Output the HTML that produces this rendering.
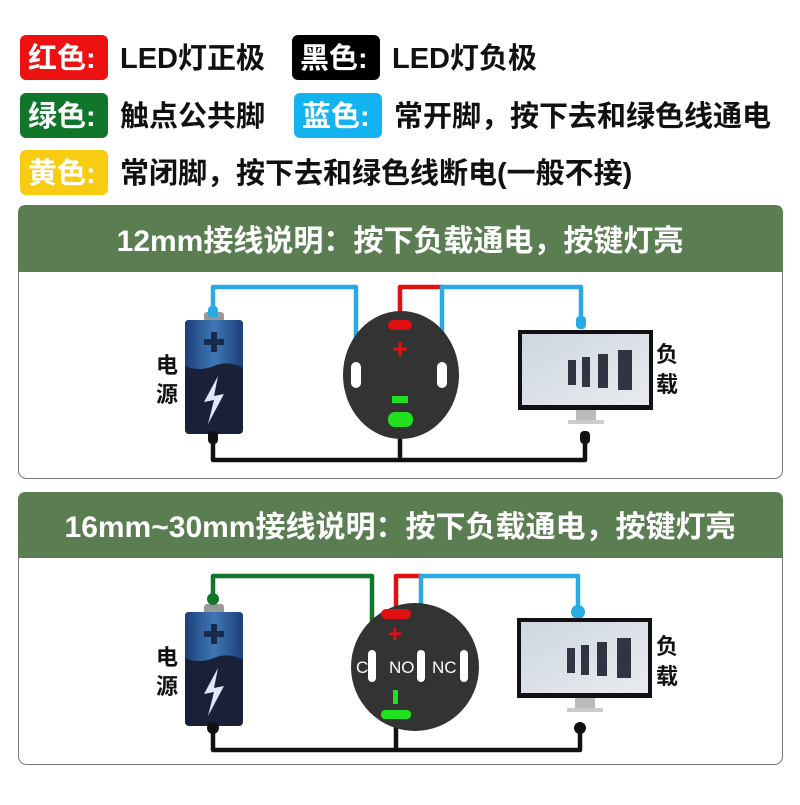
<!DOCTYPE html>
<html><head><meta charset="utf-8"><style>
body{margin:0;width:800px;height:800px;background:#fff;overflow:hidden;font-family:"Liberation Sans","Noto Sans CJK SC",sans-serif}
</style></head><body>
<svg width="800" height="800" xmlns="http://www.w3.org/2000/svg" font-family="Liberation Sans, Noto Sans CJK SC, sans-serif">
<defs>
<linearGradient id="bt" x1="0" y1="0" x2="1" y2="0"><stop offset="0" stop-color="#1c3f78"/><stop offset="0.5" stop-color="#3f78b8"/><stop offset="1" stop-color="#1c3f78"/></linearGradient>
<linearGradient id="scr" x1="0" y1="0" x2="1" y2="1"><stop offset="0" stop-color="#cfd6df"/><stop offset="1" stop-color="#e8ecf0"/></linearGradient>
<g id="bat">
<rect x="-10" y="-8" width="20" height="10" rx="3" fill="#999"/>
<rect x="-29" y="0" width="58" height="114" rx="4" fill="#1a2038"/>
<path d="M-29 4 Q-29 0 -25 0 L25 0 Q29 0 29 4 L29 48 Q15 40 0 46 Q-15 52 -29 46 Z" fill="url(#bt)"/>
<rect x="-3" y="12" width="6" height="20" fill="#1a2a4a"/><rect x="-10" y="19" width="20" height="6" fill="#1a2a4a"/>
<path d="M4 56 L-10 82 L0 80 L-6 104 L10 74 L0 76 Z" fill="#dfe8f8"/>
</g>
<g id="mon">
<rect x="0" y="0" width="135" height="80" fill="#111"/>
<rect x="4" y="4" width="127" height="71" fill="url(#scr)"/>
<rect x="50" y="30" width="8" height="25" fill="#334"/><rect x="64" y="27" width="8" height="30" fill="#334"/><rect x="80" y="24" width="10" height="34" fill="#334"/><rect x="100" y="20" width="14" height="40" fill="#334"/>
<rect x="58" y="80" width="20" height="10" fill="#bbb"/><rect x="50" y="90" width="36" height="4" fill="#ccc"/>
</g>
</defs>
<!-- legend -->
<g font-size="29" font-weight="bold">
<rect x="20" y="35" width="88" height="45" rx="6" fill="#ee1111"/><text x="28" y="68" fill="#fff">红色:</text>
<text x="120" y="68" fill="#111">LED灯正极</text>
<rect x="292" y="35" width="88" height="45" rx="6" fill="#000"/><text x="300" y="68" fill="#fff">黑色:</text>
<text x="392" y="68" fill="#111">LED灯负极</text>
<rect x="20" y="93" width="88" height="45" rx="6" fill="#10772a"/><text x="28" y="126" fill="#fff">绿色:</text>
<text x="120" y="126" fill="#111">触点公共脚</text>
<rect x="294" y="93" width="88" height="45" rx="6" fill="#13b2f0"/><text x="302" y="126" fill="#fff">蓝色:</text>
<text x="394" y="126" fill="#111">常开脚，按下去和绿色线通电</text>
<rect x="20" y="150" width="88" height="45" rx="6" fill="#f8cc10"/><text x="28" y="183" fill="#fff">黄色:</text>
<text x="120" y="183" fill="#111">常闭脚，按下去和绿色线断电(一般不接)</text>
</g>
<!-- panel 1 -->
<rect x="18.5" y="205.5" width="764" height="273" rx="8" fill="#fff" stroke="#777"/>
<path d="M18 213 Q18 205 26 205 L775 205 Q783 205 783 213 L783 272 L18 272 Z" fill="#5a7d52"/>
<text x="400" y="251" font-size="30" font-weight="bold" fill="#fff" text-anchor="middle">12mm接线说明：按下负载通电，按键灯亮</text>
<use href="#bat" x="214" y="320"/>
<g fill="none" stroke-width="4.5" stroke-linejoin="round">
<path d="M213 310 V287 H356 V375" stroke="#29aae3"/>
<path d="M400 322 V287 H442" stroke="#e01010"/>
<path d="M442 375 V287 H581 V318" stroke="#29aae3"/>
<path d="M213 440 V460 H585 V440 M400 430 V460" stroke="#111"/>
</g>
<rect x="208" y="306" width="10" height="12" rx="4" fill="#29aae3"/>
<rect x="576" y="316" width="10" height="13" rx="4" fill="#29aae3"/>
<ellipse cx="401" cy="375" rx="58" ry="64" fill="#333"/>
<rect x="388" y="320" width="24" height="10" rx="5" fill="#e01010"/>
<text x="400" y="358" font-size="28" font-weight="bold" fill="#e01010" text-anchor="middle">+</text>
<rect x="392" y="396" width="16" height="7" fill="#20e020"/>
<rect x="388" y="412" width="25" height="15" rx="7" fill="#20e020"/>
<rect x="351" y="362" width="10" height="26" rx="5" fill="#fff"/>
<rect x="437" y="362" width="10" height="26" rx="5" fill="#fff"/>
<rect x="208" y="431" width="10" height="13" rx="4" fill="#111"/>
<rect x="580" y="431" width="10" height="13" rx="4" fill="#111"/>
<use href="#mon" x="518" y="330"/>
<g font-size="22" font-weight="bold" fill="#111"><text x="156" y="373">电</text><text x="156" y="402">源</text><text x="656" y="362">负</text><text x="656" y="392">载</text></g>
<!-- panel 2 -->
<rect x="18.5" y="492.5" width="764" height="272" rx="8" fill="#fff" stroke="#777"/>
<path d="M18 500 Q18 492 26 492 L775 492 Q783 492 783 500 L783 558 L18 558 Z" fill="#5a7d52"/>
<text x="400" y="537" font-size="30" font-weight="bold" fill="#fff" text-anchor="middle">16mm~30mm接线说明：按下负载通电，按键灯亮</text>
<use href="#bat" x="214" y="612"/>
<g fill="none" stroke-width="4.5" stroke-linejoin="round">
<path d="M213 598 V576 H372 V660" stroke="#10772a"/>
<path d="M396 612 V576 H422" stroke="#e01010"/>
<path d="M421 660 V576 H578 V610" stroke="#29aae3"/>
<path d="M213 730 V750 H580 V730 M396 722 V750" stroke="#111"/>
</g>
<circle cx="213" cy="599" r="6" fill="#10772a"/>
<circle cx="578" cy="612" r="7" fill="#29aae3"/>
<circle cx="415" cy="667" r="64" fill="#333"/>
<rect x="381" y="609" width="30" height="10" rx="5" fill="#e01010"/>
<text x="395" y="642" font-size="24" font-weight="bold" fill="#e01010" text-anchor="middle">+</text>
<rect x="393" y="690" width="5" height="14" fill="#20e020"/>
<rect x="381" y="710" width="30" height="9" rx="4" fill="#20e020"/>
<g fill="#fff"><rect x="368" y="650" width="8" height="32" rx="4"/><rect x="417" y="650" width="8" height="32" rx="4"/><rect x="460" y="650" width="8" height="32" rx="4"/></g>
<g font-size="17" fill="#fff"><text x="356" y="673">C</text><text x="389" y="673">NO</text><text x="432" y="673">NC</text></g>
<circle cx="213" cy="728" r="6" fill="#111"/>
<circle cx="580" cy="728" r="6" fill="#111"/>
<use href="#mon" x="517" y="618"/>
<g font-size="22" font-weight="bold" fill="#111"><text x="156" y="665">电</text><text x="156" y="694">源</text><text x="656" y="654">负</text><text x="656" y="684">载</text></g>
</svg>
</body></html>
